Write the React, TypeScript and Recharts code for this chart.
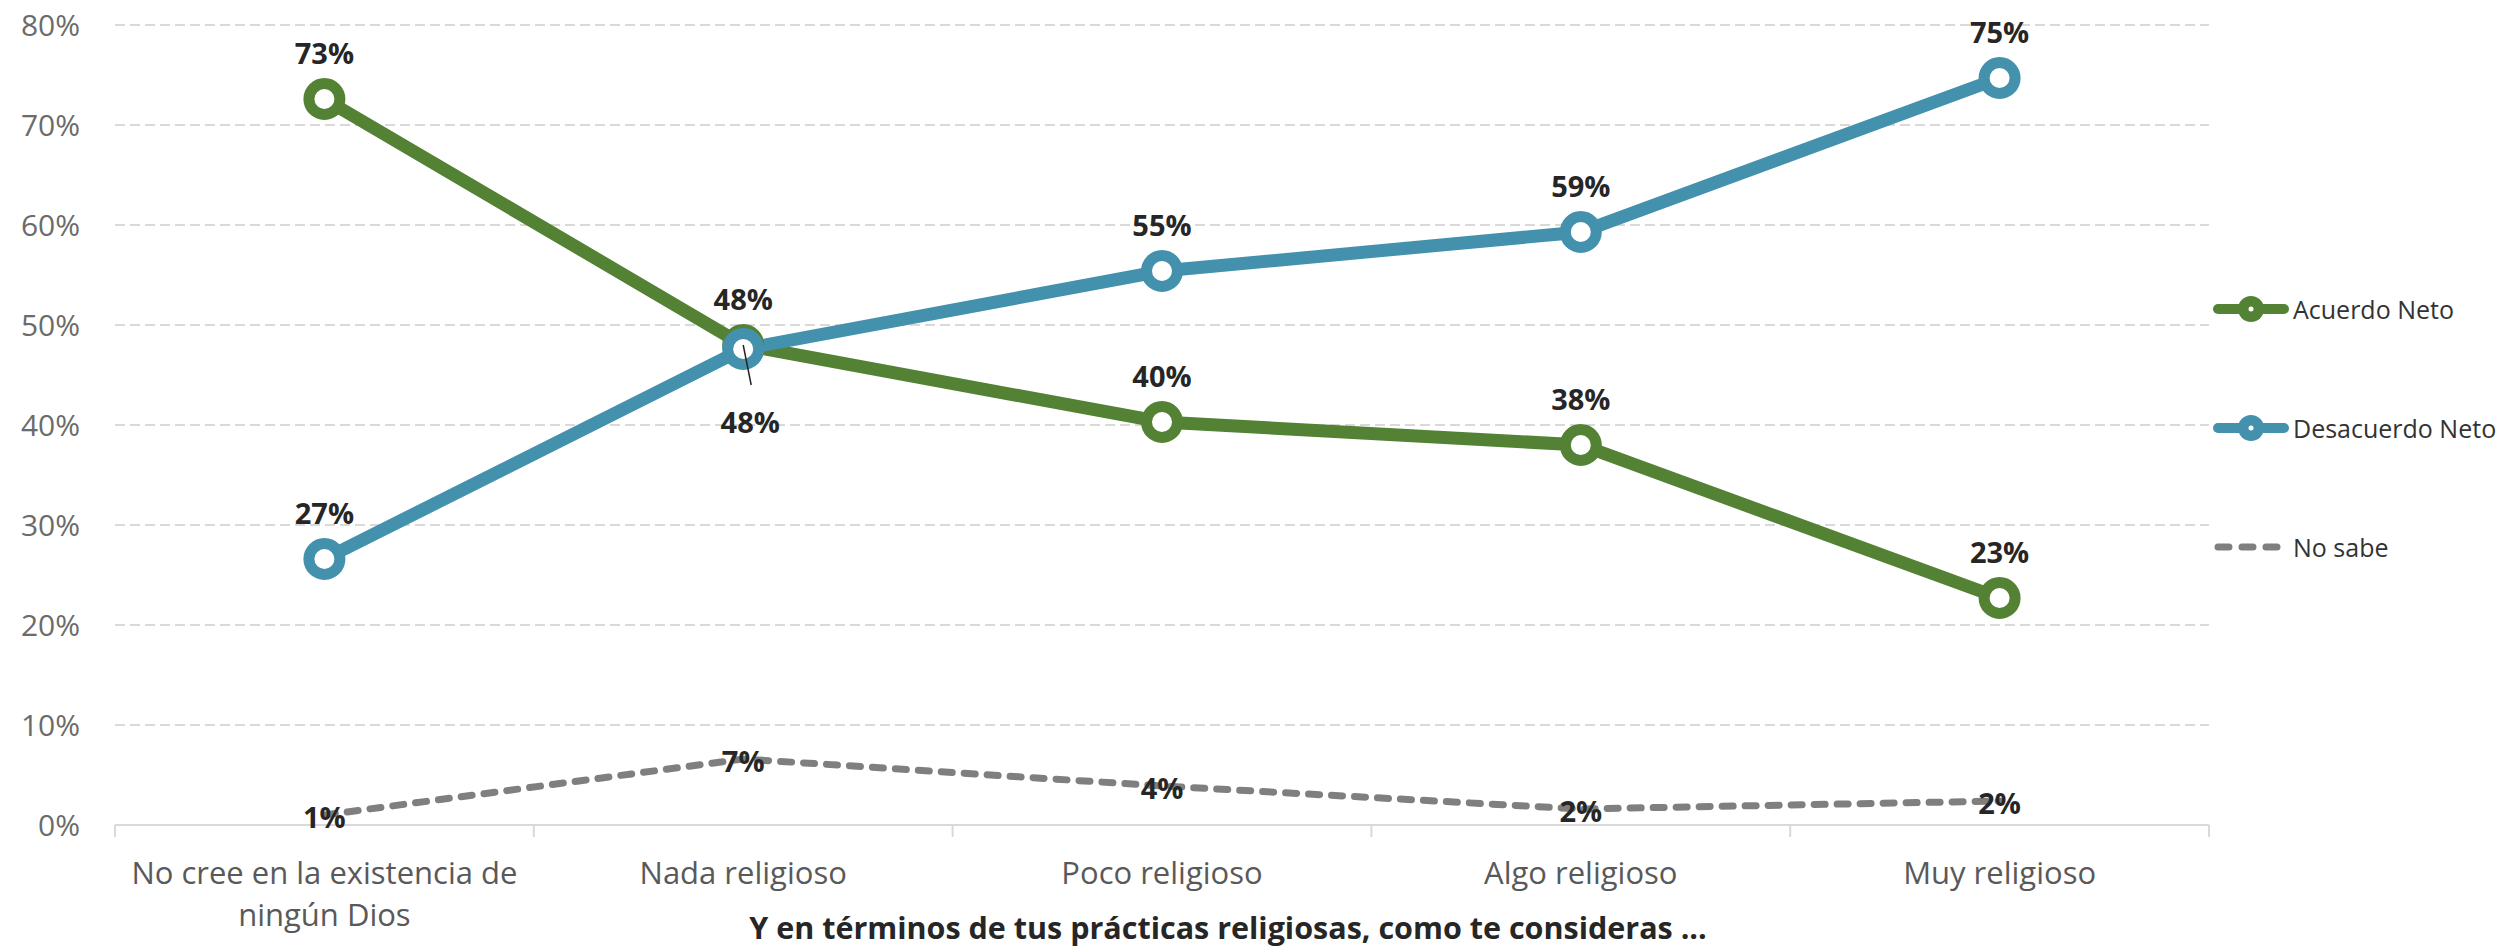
import {
  LineChart, Line, XAxis, YAxis, CartesianGrid, Legend, LabelList, Label,
} from 'recharts'

const categories = [
  'No cree en la existencia de\nningún Dios',
  'Nada religioso',
  'Poco religioso',
  'Algo religioso',
  'Muy religioso',
]
const acuerdoNeto = [72.6, 48.0, 40.3, 38.0, 22.7]
const desacuerdoNeto = [26.6, 47.6, 55.4, 59.3, 74.7]
const noSabe = [1.0, 6.6, 3.9, 1.6, 2.4]
const yTicks = [0, 10, 20, 30, 40, 50, 60, 70, 80]

const seriesNames = ['Acuerdo Neto', 'Desacuerdo Neto', 'No sabe']
const seriesColors = ['#548235', '#4391ad', '#7f7f7f']
const xTitle = 'Y en términos de tus prácticas religiosas, como te consideras ...'

const W = 2498
const H = 949
const LEFT = 115
const RIGHT = 289
const BAND = (W - LEFT - RIGHT) / categories.length
const FONT = "'Open Sans', 'Noto Sans', sans-serif"

const data = categories.map((cat, i) => ({
  cat,
  acuerdo: acuerdoNeto[i],
  desacuerdo: desacuerdoNeto[i],
  nosabe: noSabe[i],
}))

const pct = (v: any) => `${Math.round(Number(v))}%`

function CatTick({ x, y, payload, index }: any) {
  const lines = String(payload.value).split('\n')
  return (
    <g>
      <line x1={x - BAND / 2} x2={x - BAND / 2} y1={y} y2={y + 12} stroke="#d9d9d9" strokeWidth={2} />
      {index === categories.length - 1 && (
        <line x1={x + BAND / 2} x2={x + BAND / 2} y1={y} y2={y + 12} stroke="#d9d9d9" strokeWidth={2} />
      )}
      <text x={x} y={y} textAnchor="middle" fill="#595959" fontSize={31} fontFamily={FONT}>
        {lines.map((l, i) => (
          <tspan key={i} x={x} dy={i === 0 ? 59 : 42}>{l}</tspan>
        ))}
      </text>
    </g>
  )
}

const labelStyle = { fontSize: 29, fontWeight: 700, fill: '#262626', fontFamily: FONT }

function AboveLabel({ x, y, value }: any) {
  return <text x={x} y={y - 35} textAnchor="middle" {...labelStyle}>{pct(value)}</text>
}

function DesacuerdoLabel({ x, y, value, index }: any) {
  if (index === 1) {
    return (
      <g>
        <line x1={x} y1={y - 4} x2={x + 8} y2={y + 36} stroke="#262626" strokeWidth={1.5} />
        <text x={x + 7} y={y + 84} textAnchor="middle" {...labelStyle}>{pct(value)}</text>
      </g>
    )
  }
  return <AboveLabel x={x} y={y} value={value} />
}

function CenterLabel({ x, y, value }: any) {
  return <text x={x} y={y + 13} textAnchor="middle" {...labelStyle}>{pct(value)}</text>
}

// axis title sits a bit right of the plot centre, like the source chart
function AxisTitle({ viewBox }: any) {
  const { x, y, width, height } = viewBox
  return (
    <text x={x + width / 2 + 66} y={y + height - 10} textAnchor="middle"
      fontSize={30.5} fontWeight={700} fill="#262626" fontFamily={FONT}>
      {xTitle}
    </text>
  )
}

function LegendBox() {
  return (
    <svg width={293} height={300} style={{ display: 'block' }}>
      {seriesNames.map((name, i) => {
        const cy = 29 + i * 119
        const color = seriesColors[i]
        return (
          <g key={name}>
            {i === 2 ? (
              <line x1={13} x2={72} y1={cy} y2={cy} stroke={color} strokeWidth={7}
                strokeDasharray="11 13" strokeLinecap="round" />
            ) : (
              <>
                <line x1={13} x2={79} y1={cy} y2={cy} stroke={color} strokeWidth={10} strokeLinecap="round" />
                <circle cx={46} cy={cy} r={13} fill={color} />
                <circle cx={46} cy={cy} r={2.5} fill="#fff" />
              </>
            )}
            <text x={88} y={cy} dominantBaseline="central" fontSize={25} fill="#333" fontFamily={FONT}>
              {name}
            </text>
          </g>
        )
      })}
    </svg>
  )
}

export default function App() {
  return (
    <div style={{ width: W, height: H, background: '#fff', fontFamily: FONT }}>
      <style>{'body{margin:0}'}</style>
      <LineChart width={W} height={H} data={data}
        margin={{ top: 25, right: RIGHT, bottom: 0, left: 0 }}>
        <CartesianGrid vertical={false} stroke="#d9d9d9" strokeWidth={2} strokeDasharray="10 5" />
        <XAxis dataKey="cat" scale="band" interval={0} height={124}
          axisLine={{ stroke: '#d9d9d9', strokeWidth: 2 }}
          tickLine={false} tickSize={0} tickMargin={0} tick={<CatTick />}>
          <Label content={<AxisTitle />} />
        </XAxis>
        <YAxis width={LEFT} domain={[0, 80]} ticks={yTicks} axisLine={false}
          tickLine={false} tickSize={0} tickMargin={35} tickFormatter={v => v + '%'}
          tick={{ fill: '#6b6b6b', fontSize: 30, fontFamily: FONT }} />
        <Legend layout="vertical" align="center" verticalAlign="middle"
          wrapperStyle={{ left: 2205, top: 280, width: 293, height: 300 }}
          content={() => <LegendBox />} />
        <Line type="linear" dataKey="acuerdo" name={seriesNames[0]} stroke={seriesColors[0]}
          strokeWidth={13} dot={{ r: 15.5, strokeWidth: 11, fill: '#fff', stroke: seriesColors[0] }}
          activeDot={false} isAnimationActive={false}>
          <LabelList dataKey="acuerdo" content={<AboveLabel />} />
        </Line>
        <Line type="linear" dataKey="desacuerdo" name={seriesNames[1]} stroke={seriesColors[1]}
          strokeWidth={13} dot={{ r: 15.5, strokeWidth: 11, fill: '#fff', stroke: seriesColors[1] }}
          activeDot={false} isAnimationActive={false}>
          <LabelList dataKey="desacuerdo" content={<DesacuerdoLabel />} />
        </Line>
        <Line type="linear" dataKey="nosabe" name={seriesNames[2]} stroke={seriesColors[2]}
          strokeWidth={7} strokeDasharray="11 12" strokeLinecap="round" dot={false}
          activeDot={false} isAnimationActive={false}>
          <LabelList dataKey="nosabe" content={<CenterLabel />} />
        </Line>
      </LineChart>
    </div>
  )
}
